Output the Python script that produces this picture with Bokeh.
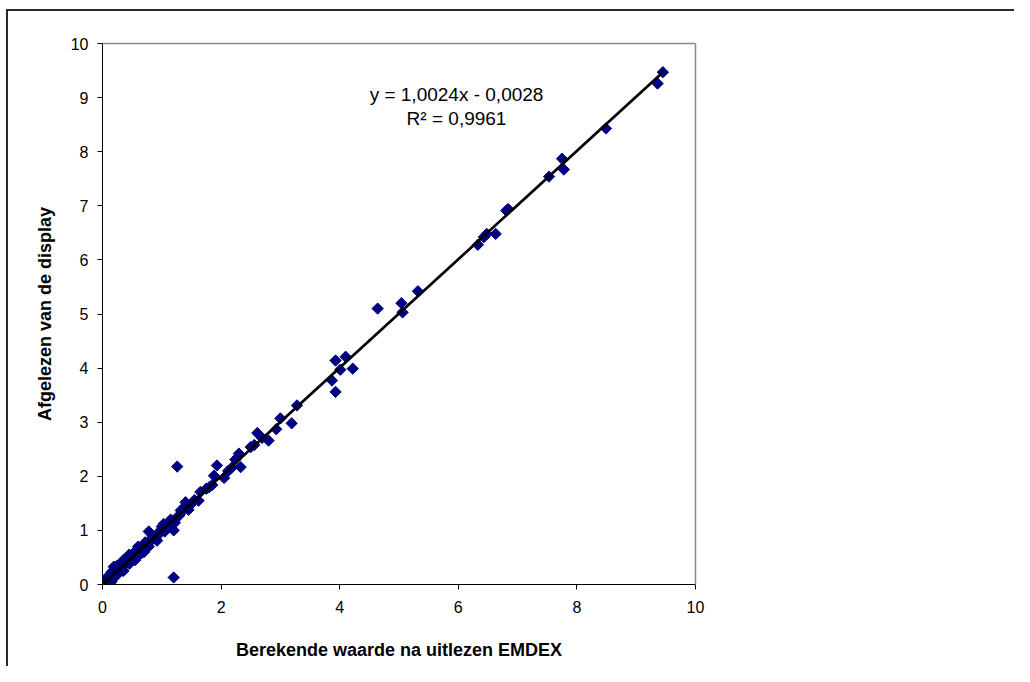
import numpy as np
from bokeh.plotting import figure
from bokeh.models import Range1d, FixedTicker, Label, LinearAxis
from bokeh.embed import file_html
from bokeh.resources import INLINE

# ---- data ----
x_vals = [
    9.45, 9.36, 8.49, 7.75, 7.78, 7.53, 6.84, 6.81, 6.63, 6.48, 6.43, 6.33, 5.32,
    5.04, 5.06, 4.64,
    3.93, 4.10, 4.01, 3.87, 3.93, 4.22,
    3.28, 3.00, 3.19, 2.93, 2.61, 2.69, 2.80, 2.50, 2.56, 2.30, 2.24, 2.33, 1.93,
    1.88, 2.05, 1.26, 1.65, 1.62, 1.40, 1.32, 1.20, 1.03, 0.78, 0.92, 1.20, 0.19,
    1.75, 1.80, 1.85, 2.12, 2.18, 1.55, 1.48, 1.45, 1.36, 1.30,
    1.28, 1.12, 1.08, 0.98, 0.95, 0.88, 0.85, 0.82, 0.75, 0.72,
    0.70, 0.67, 0.65, 0.62, 0.60, 0.58, 0.55, 0.53, 0.50, 0.48,
    0.46, 0.44, 0.42, 0.40, 0.38, 0.36, 0.35, 0.33, 0.31, 0.30,
    0.28, 0.27, 0.25, 0.24, 0.22, 0.21, 0.20, 0.18, 0.17, 0.15,
    0.14, 0.12, 0.11, 0.10, 0.08, 0.07, 0.05, 0.04, 0.02, 0.00,
    0.16, 0.22, 0.26, 0.30,
    0.10, 0.14, 0.18, 0.22, 0.30, 0.34, 0.40, 0.45, 0.52, 0.56,
    0.62, 0.66, 0.72, 0.78, 0.85, 0.90, 1.00, 1.05, 1.15, 1.22,
    1.40, 1.45,
    0.25, 0.35, 0.45, 0.15, 0.35, 0.55, 0.60, 0.70,
]
y_vals = [
    9.47, 9.26, 8.43, 7.87, 7.67, 7.54, 6.94, 6.91, 6.48, 6.48, 6.42, 6.28, 5.42,
    5.20, 5.03, 5.10,
    4.14, 4.21, 3.97, 3.77, 3.56, 3.99,
    3.31, 3.07, 2.98, 2.87, 2.80, 2.71, 2.66, 2.54, 2.58, 2.42, 2.31, 2.17, 2.20,
    2.01, 1.97, 2.18, 1.71, 1.55, 1.52, 1.37, 1.00, 1.12, 0.98, 0.81, 0.13, 0.33,
    1.77, 1.80, 1.84, 2.10, 2.16, 1.56, 1.47, 1.44, 1.38, 1.29,
    1.26, 1.10, 1.08, 1.00, 0.93, 0.89, 0.84, 0.83, 0.76, 0.71,
    0.71, 0.66, 0.66, 0.61, 0.61, 0.57, 0.56, 0.52, 0.51, 0.47,
    0.47, 0.43, 0.43, 0.39, 0.39, 0.35, 0.36, 0.32, 0.32, 0.29,
    0.29, 0.26, 0.26, 0.23, 0.23, 0.20, 0.22, 0.17, 0.18, 0.14,
    0.15, 0.11, 0.12, 0.09, 0.09, 0.06, 0.06, 0.03, 0.03, 0.00,
    0.24, 0.30, 0.21, 0.25,
    0.16, 0.08, 0.25, 0.15, 0.37, 0.26, 0.46, 0.38, 0.58, 0.48,
    0.68, 0.58, 0.78, 0.70, 0.90, 0.84, 1.07, 0.98, 1.20, 1.14,
    1.45, 1.38,
    0.35, 0.45, 0.55, 0.05, 0.25, 0.45, 0.70, 0.60,
]
slope = 1.0024
intercept = -0.0028
x_ticks = [0, 2, 4, 6, 8, 10]
y_ticks = [0, 1, 2, 3, 4, 5, 6, 7, 8, 9, 10]
x_title = "Berekende waarde na uitlezen EMDEX"
y_title = "Afgelezen van de display"
eq_text = "y = 1,0024x - 0,0028"
r2_text = "R² = 0,9961"

FONT = "Liberation Sans"
NAVY = "#000080"

p = figure(width=1014, height=666, output_backend="svg", toolbar_location=None,
           x_range=Range1d(0, 10), y_range=Range1d(0, 10),
           min_border_left=102, min_border_right=319,
           min_border_top=43, min_border_bottom=82,
           background_fill_color="white", border_fill_color=None)
# outer chart border (left and top edges visible) painted as host background
p.styles = {
    "background-color": "white",
    "background-image": "linear-gradient(#2a2a2a, #2a2a2a), linear-gradient(#2a2a2a, #2a2a2a)",
    "background-size": "2px 100%, 100% 2px",
    "background-position": "6px 9px, 6px 9px",
    "background-repeat": "no-repeat",
}
p.xgrid.visible = False
p.ygrid.visible = False
p.outline_line_color = None

for ax, ticks in ((p.xaxis[0], x_ticks), (p.yaxis[0], y_ticks)):
    ax.ticker = FixedTicker(ticks=ticks)
    ax.minor_tick_line_color = None
    ax.major_tick_in = 0
    ax.major_tick_out = 5
    ax.axis_line_color = "black"
    ax.major_tick_line_color = "black"
    ax.major_label_text_font = FONT
    ax.major_label_text_font_size = "16px"
    ax.major_label_text_color = "black"
    ax.axis_label_text_font = FONT
    ax.axis_label_text_font_size = "18px"
    ax.axis_label_text_font_style = "bold"
    ax.axis_label_text_color = "black"

p.xaxis.axis_label = x_title
p.yaxis.axis_label = y_title
p.xaxis.major_label_standoff = 11
p.yaxis.major_label_standoff = 9
p.xaxis.axis_label_standoff = 24
p.yaxis.axis_label_standoff = 13

# gray top/right frame edges
for side in ("above", "right"):
    a = LinearAxis(ticker=FixedTicker(ticks=[]), axis_line_color="#888888",
                   axis_line_width=1.5, major_tick_line_color=None,
                   minor_tick_line_color=None, major_label_text_font_size="0px")
    p.add_layout(a, side)

p.scatter(x_vals, y_vals, marker="square", angle=np.pi / 4, size=8,
          fill_color=NAVY, line_color=NAVY)

xmin, xmax = min(x_vals), max(x_vals)
p.line([xmin, xmax], [slope * xmin + intercept, slope * xmax + intercept],
       line_color="black", line_width=2.7)

p.add_layout(Label(x=5.97, y=9.06, text=eq_text, text_align="center",
                   text_baseline="middle", text_font=FONT, text_font_size="19px",
                   text_color="black"))
p.add_layout(Label(x=5.97, y=8.61, text=r2_text, text_align="center",
                   text_baseline="middle", text_font=FONT, text_font_size="19px",
                   text_color="black"))

open("out.html", "w").write(file_html(p, INLINE))
